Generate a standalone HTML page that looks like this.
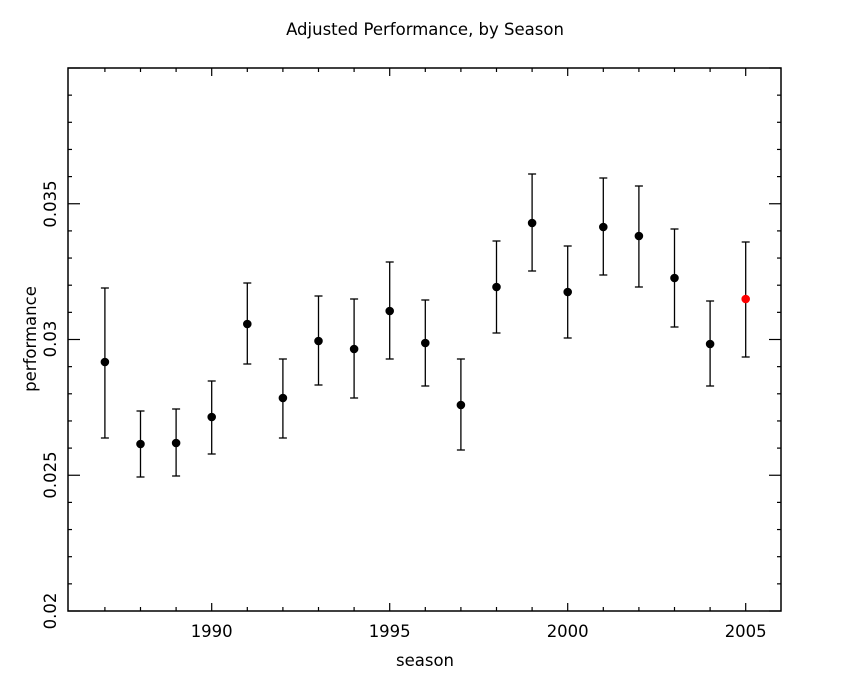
<!DOCTYPE html>
<html><head><style>body{margin:0;background:#fff}svg{display:block}text{font-family:"DejaVu Sans","Liberation Sans",sans-serif;font-size:16.5px;fill:#000}</style></head>
<body>
<svg width="850" height="680" viewBox="0 0 850 680" xmlns="http://www.w3.org/2000/svg">
<text x="425" y="35" text-anchor="middle">Adjusted Performance, by Season</text>
<rect x="68" y="68" width="713" height="543" fill="none" stroke="#000" stroke-width="1.5"/>
<g stroke="#000" stroke-width="1.2" id="ticks"></g>
<g id="labels"></g>
<text x="425" y="666" text-anchor="middle">season</text>
<text transform="translate(36,339) rotate(-90)" text-anchor="middle">performance</text>
<g id="data" stroke="#000" stroke-width="1.3"></g>
<script>
var ns="http://www.w3.org/2000/svg";
function el(p,t,a,txt){var e=document.createElementNS(ns,t);for(var k in a)e.setAttribute(k,a[k]);if(txt)e.textContent=txt;document.getElementById(p).appendChild(e);}
function X(y){return 211.7+(y-1990)*35.6;}
function Y(v){return 611-(v-0.02)*27150;}
for(var yr=1987;yr<=2005;yr++){var x=X(yr),L=(yr%5==0)?8:4;
 el("ticks","line",{x1:x,y1:611,x2:x,y2:611-L});el("ticks","line",{x1:x,y1:68,x2:x,y2:68+L});
 if(yr%5==0)el("labels","text",{x:x,y:637,"text-anchor":"middle"},""+yr);}
for(var i=0;i<=20;i++){var v=0.02+i*0.001,y=Y(v),L=(i%5==0)?12:4;
 el("ticks","line",{x1:68,y1:y,x2:68+L,y2:y});el("ticks","line",{x1:781,y1:y,x2:781-L,y2:y});}
var labs=[["0.02",611],["0.025",475],["0.03",339],["0.035",204]];
labs.forEach(function(l){el("labels","text",{transform:"translate(56,"+l[1]+") rotate(-90)","text-anchor":"middle"},l[0]);});
var d=[[362,288,438],[444,411,477],[443,409,476],[417,381,454],[324,283,364],[398,359,438],[341,296,385],[349,299,398],[311,262,359],[343,300,386],[405,359,450],[287,241,333],[223,174,271],[292,246,338],[227,178,275],[236,186,287],[278,229,327],[344,301,386],[299,242,357]];
d.forEach(function(p,i){var x=X(1987+i);
 el("data","line",{x1:x,y1:p[1],x2:x,y2:p[2]});
 el("data","line",{x1:x-4,y1:p[1],x2:x+4,y2:p[1]});
 el("data","line",{x1:x-4,y1:p[2],x2:x+4,y2:p[2]});
 el("data","circle",{cx:x,cy:p[0],r:4.3,fill:i==18?"#f00":"#000",stroke:"none"});});
</script>
</svg>
</body></html>
